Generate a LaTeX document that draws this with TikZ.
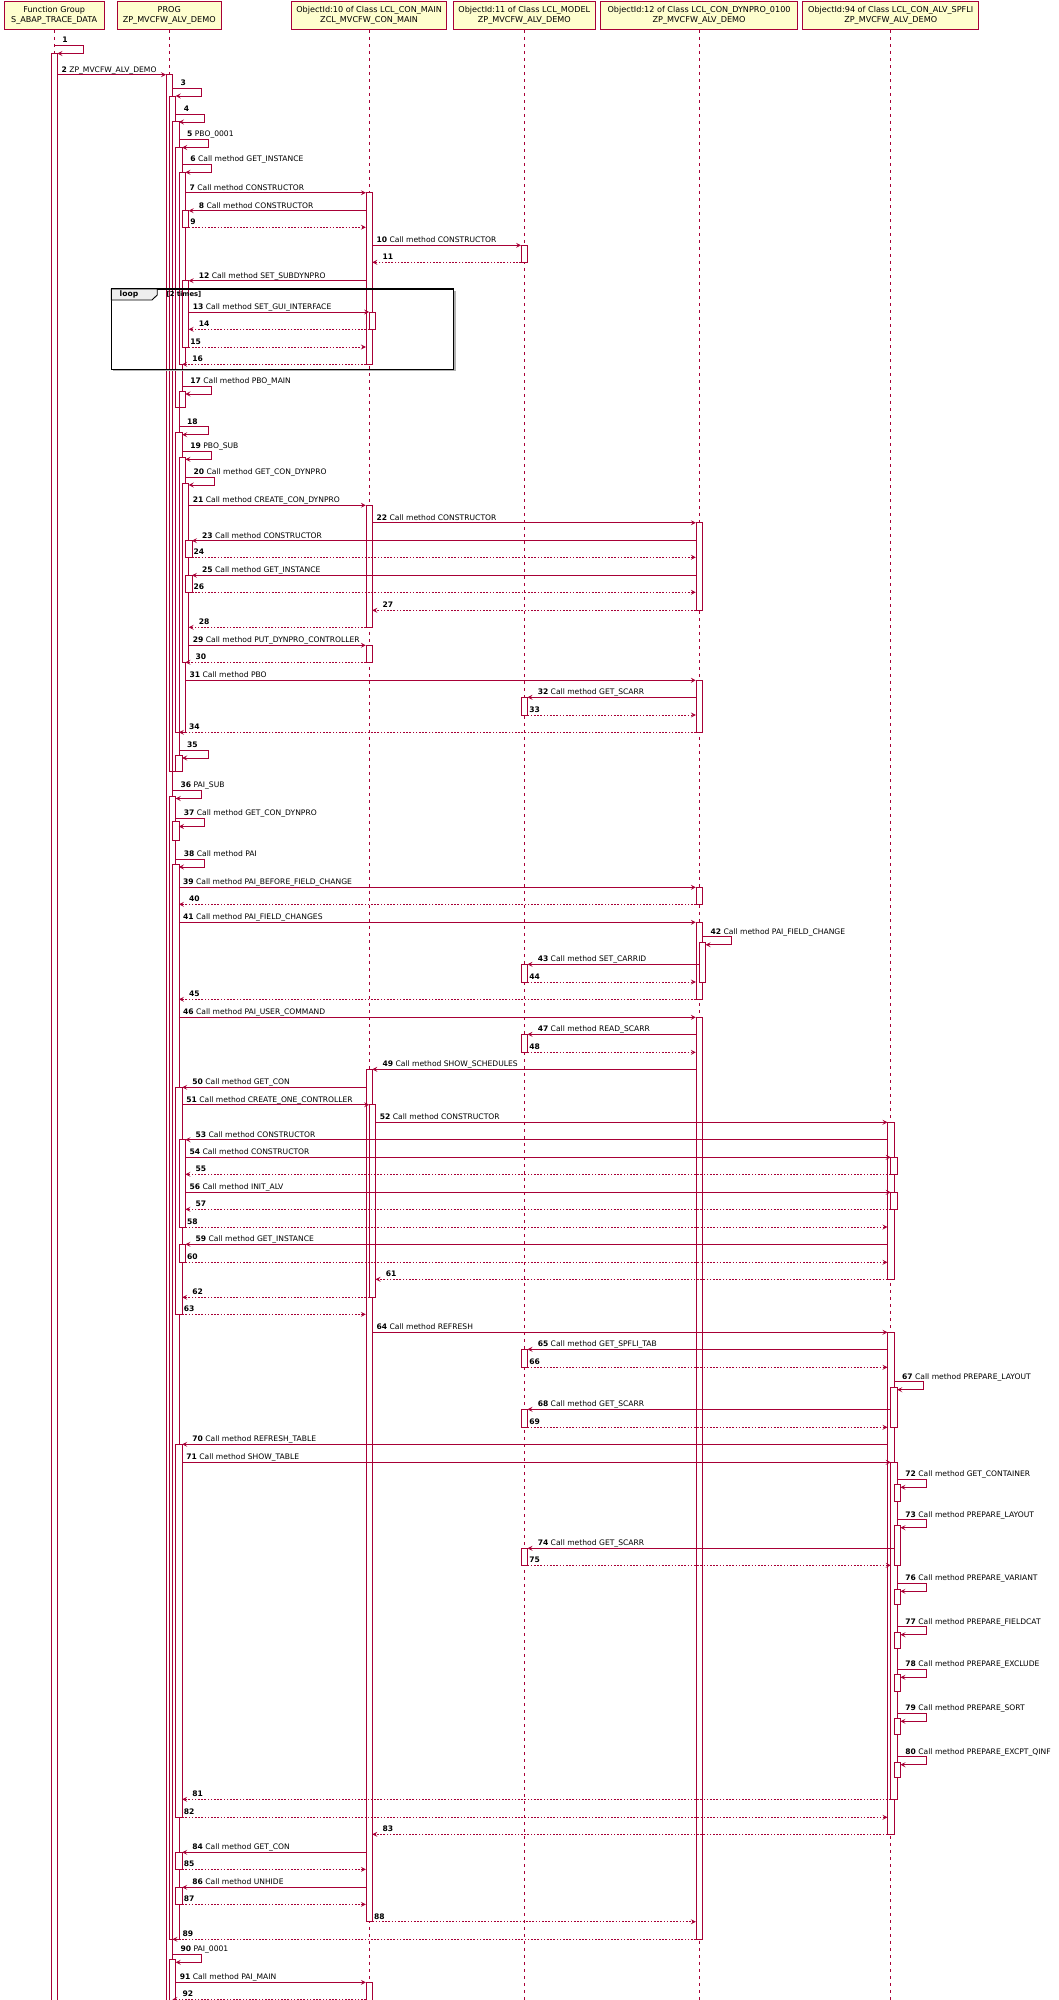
\documentclass[tikz,border=0pt]{standalone}
\usepackage{fontspec}
\setmainfont{DejaVu Sans}
\usetikzlibrary{arrows.meta}
\definecolor{seqline}{HTML}{A80036}
\definecolor{headfill}{HTML}{FEFECE}
\definecolor{tabfill}{HTML}{EEEEEE}

% lifeline centres
\newcommand\lxA{54.2}
\newcommand\lxB{169.2}
\newcommand\lxC{369.1}
\newcommand\lxD{524.3}
\newcommand\lxE{699.1}
\newcommand\lxF{890.7}
% right / left edge of the activation bar of nesting level k
\newcommand\redge[2]{(\csname lx#1\endcsname+3.25*(#2))}
\newcommand\ledge[2]{(\csname lx#1\endcsname+3.25*((#2)-2))}

\tikzset{
  life/.style={seqline, line width=0.6pt, dash pattern=on 3.5pt off 3.5pt},
  actbox/.style={draw=seqline, fill=white, line width=0.7pt},
  call/.style={seqline, line width=0.75pt, -{Stealth[length=5pt,width=5pt,inset=2pt]}},
  ret/.style={call, dash pattern=on 1.6pt off 1.6pt},
  lbl/.style={anchor=base west, inner sep=0pt, font=\fontsize{7.6}{9}\selectfont},
  head/.style={draw=seqline, fill=headfill, line width=0.8pt, minimum height=28.3pt,
    align=center, inner sep=2pt, font=\fontsize{8.1}{9.7}\selectfont},
}

% synchronous call to the right / left
\newcommand\callR[5]{%
  \coordinate (m#1s) at ({#2},#4);
  \coordinate (m#1e) at ({#3},#4);
  \draw[call] (m#1s) -- (m#1e);
  \node[lbl] (t#1) at ({#2+4},{#4-2.6}) {\textbf{#1} #5};}
\newcommand\callL[5]{%
  \coordinate (m#1s) at ({#2},#4);
  \coordinate (m#1e) at ({#3},#4);
  \draw[call] (m#1s) -- (m#1e);
  \node[lbl] (t#1) at ({#3+10},{#4-2.6}) {\textbf{#1} #5};}
% returns
\newcommand\retR[4]{%
  \coordinate (m#1s) at ({#2},#4);
  \coordinate (m#1e) at ({#3},#4);
  \draw[ret] (m#1s) -- (m#1e);
  \node[lbl] (t#1) at ({#2+1.5},{#4-2.6}) {\textbf{#1}};}
\newcommand\retL[4]{%
  \coordinate (m#1s) at ({#2},#4);
  \coordinate (m#1e) at ({#3},#4);
  \draw[ret] (m#1s) -- (m#1e);
  \node[lbl] (t#1) at ({#3+10},{#4-2.6}) {\textbf{#1}};}
% self call from level k to level k+1
\newcommand\selfcall[5]{%
  \coordinate (m#1s) at ({\redge{#2}{#3}},#4);
  \coordinate (m#1a) at ({\redge{#2}{#3}+29},#4);
  \coordinate (m#1b) at ({\redge{#2}{#3}+29},{#4+8});
  \coordinate (m#1e) at ({\redge{#2}{(#3)+1}},{#4+8});
  \draw[call] (m#1s) -- (m#1a) -- (m#1b) -- (m#1e);
  \node[lbl] (t#1) at ({\redge{#2}{#3}+8},{#4-2.6}) {\textbf{#1} #5};}
% activation bar
\newcommand\actbar[4]{%
  \draw[actbox] ({\ledge{#1}{#2}},#3) rectangle ({\redge{#1}{#2}},#4);}

\begin{document}
\begin{tikzpicture}[x=1pt,y=-1pt]
\useasboundingbox (0,0) rectangle (1058,2000);
\fill[white] (0,0) rectangle (1058,2000);

% participants
\node[head, minimum width=99.9pt]  (hA) at (\lxA,15.2) {Function Group\\S\_ABAP\_TRACE\_DATA};
\node[head, minimum width=103.9pt] (hB) at (\lxB,15.2) {PROG\\ZP\_MVCFW\_ALV\_DEMO};
\node[head, minimum width=155.2pt] (hC) at (\lxC,15.2) {ObjectId:10 of Class LCL\_CON\_MAIN\\ZCL\_MVCFW\_CON\_MAIN};
\node[head, minimum width=142.3pt] (hD) at (\lxD,15.2) {ObjectId:11 of Class LCL\_MODEL\\ZP\_MVCFW\_ALV\_DEMO};
\node[head, minimum width=197pt]   (hE) at (\lxE,15.2) {ObjectId:12 of Class LCL\_CON\_DYNPRO\_0100\\ZP\_MVCFW\_ALV\_DEMO};
\node[head, minimum width=176.2pt] (hF) at (\lxF,15.2) {ObjectId:94 of Class LCL\_CON\_ALV\_SPFLI\\ZP\_MVCFW\_ALV\_DEMO};

% lifelines
\draw[life] (hA.south) -- (\lxA,2000);
\draw[life] (hB.south) -- (\lxB,2000);
\draw[life] (hC.south) -- (\lxC,2000);
\draw[life] (hD.south) -- (\lxD,2000);
\draw[life] (hE.south) -- (\lxE,2000);
\draw[life] (hF.south) -- (\lxF,2000);

% activation bars
\actbar{A}{1}{53.3}{2005}

\actbar{B}{1}{74.7}{2005}
\actbar{B}{2}{96.7}{771}
\actbar{B}{2}{796}{1939.3}
\actbar{B}{2}{1959.5}{2005}
\actbar{B}{3}{121.3}{771}
\actbar{B}{3}{821}{840}
\actbar{B}{3}{864}{1939.3}
\actbar{B}{4}{147.3}{407.3}
\actbar{B}{4}{432}{732.3}
\actbar{B}{4}{755.5}{771}
\actbar{B}{4}{1087.3}{1314.3}
\actbar{B}{4}{1444.3}{1817.3}
\actbar{B}{4}{1852.3}{1869.3}
\actbar{B}{4}{1887.3}{1904.3}
\actbar{B}{5}{172.3}{364.3}
\actbar{B}{5}{391.3}{407.3}
\actbar{B}{5}{457}{732.3}
\actbar{B}{5}{1139.7}{1227}
\actbar{B}{5}{1244.3}{1262.3}
\actbar{B}{6}{210.7}{227.3}
\actbar{B}{6}{280.7}{347}
\actbar{B}{6}{483}{662.3}
\actbar{B}{7}{540.7}{557.3}
\actbar{B}{7}{575.3}{592.3}

\actbar{C}{1}{192.7}{364.3}
\actbar{C}{1}{505.3}{627.3}
\actbar{C}{1}{645.3}{662.3}
\actbar{C}{1}{1069.3}{1921.7}
\actbar{C}{1}{1982.3}{2005}
\actbar{C}{2}{312}{329.3}
\actbar{C}{2}{1104.7}{1297.3}

\actbar{D}{1}{245.3}{262.3}
\actbar{D}{1}{697.3}{715}
\actbar{D}{1}{964.3}{982}
\actbar{D}{1}{1034.3}{1052.3}
\actbar{D}{1}{1349.3}{1367.3}
\actbar{D}{1}{1409.3}{1427.3}
\actbar{D}{1}{1548.3}{1565.3}

\actbar{E}{1}{522.7}{610.3}
\actbar{E}{1}{680.3}{732.3}
\actbar{E}{1}{887.3}{904.3}
\actbar{E}{1}{922.3}{999.3}
\actbar{E}{1}{1017.3}{1939.3}
\actbar{E}{2}{942}{982}

\actbar{F}{1}{1122.3}{1279.3}
\actbar{F}{1}{1332.3}{1834.3}
\actbar{F}{2}{1157.3}{1174.3}
\actbar{F}{2}{1192.3}{1209.3}
\actbar{F}{2}{1387}{1427.3}
\actbar{F}{2}{1462.3}{1799.3}
\actbar{F}{3}{1484.5}{1501}
\actbar{F}{3}{1525}{1565.3}
\actbar{F}{3}{1589}{1604}
\actbar{F}{3}{1632}{1648.3}
\actbar{F}{3}{1674.3}{1691.3}
\actbar{F}{3}{1718.3}{1734.3}
\actbar{F}{3}{1762}{1777.3}

% loop fragment
\draw[black!30, line width=1.2pt] (454.9,291) -- (454.9,370.8) -- (113,370.8);
\draw[black, line width=1.1pt] (111.3,289) rectangle (453.4,369.3);
\filldraw[fill=tabfill, draw=black, line width=0.9pt]
  (111.3,289) -- (157.2,289) -- (157.2,295) -- (152,300) -- (111.3,300) -- cycle;
\node[lbl, anchor=west, font=\fontsize{7.6}{9}\selectfont\bfseries] (looptag) at (119.5,294.4) {loop};
\node[lbl, anchor=west, font=\fontsize{6.8}{8}\selectfont\bfseries] (loopcond) at (166.5,294.4) {[2 times]};

% messages
\selfcall{1}{A}{0}{45.5}{}
\callR{2}{\redge{A}{1}}{\ledge{B}{1}}{74.7}{ZP\_MVCFW\_ALV\_DEMO}
\selfcall{3}{B}{1}{88}{}
\selfcall{4}{B}{2}{114}{}
\selfcall{5}{B}{3}{139.5}{PBO\_0001}
\selfcall{6}{B}{4}{164.3}{Call method GET\_INSTANCE}
\callR{7}{\redge{B}{5}}{\ledge{C}{1}}{192.7}{Call method CONSTRUCTOR}
\callL{8}{\ledge{C}{1}}{\redge{B}{6}}{210.7}{Call method CONSTRUCTOR}
\retR{9}{\redge{B}{6}}{\ledge{C}{1}}{227.3}
\callR{10}{\redge{C}{1}}{\ledge{D}{1}}{245.3}{Call method CONSTRUCTOR}
\retL{11}{\ledge{D}{1}}{\redge{C}{1}}{262.3}
\callL{12}{\ledge{C}{1}}{\redge{B}{6}}{280.7}{Call method SET\_SUBDYNPRO}
\callR{13}{\redge{B}{6}}{\ledge{C}{2}}{312}{Call method SET\_GUI\_INTERFACE}
\retL{14}{\ledge{C}{2}}{\redge{B}{6}}{329.3}
\retR{15}{\redge{B}{6}}{\ledge{C}{1}}{347}
\retL{16}{\ledge{C}{1}}{\redge{B}{4}}{364.3}
\selfcall{17}{B}{4}{386}{Call method PBO\_MAIN}
\selfcall{18}{B}{3}{426.7}{}
\selfcall{19}{B}{4}{451.3}{PBO\_SUB}
\selfcall{20}{B}{5}{477}{Call method GET\_CON\_DYNPRO}
\callR{21}{\redge{B}{6}}{\ledge{C}{1}}{505.3}{Call method CREATE\_CON\_DYNPRO}
\callR{22}{\redge{C}{1}}{\ledge{E}{1}}{522.7}{Call method CONSTRUCTOR}
\callL{23}{\ledge{E}{1}}{\redge{B}{7}}{540.7}{Call method CONSTRUCTOR}
\retR{24}{\redge{B}{7}}{\ledge{E}{1}}{557.3}
\callL{25}{\ledge{E}{1}}{\redge{B}{7}}{575.3}{Call method GET\_INSTANCE}
\retR{26}{\redge{B}{7}}{\ledge{E}{1}}{592.3}
\retL{27}{\ledge{E}{1}}{\redge{C}{1}}{610.3}
\retL{28}{\ledge{C}{1}}{\redge{B}{6}}{627.3}
\callR{29}{\redge{B}{6}}{\ledge{C}{1}}{645.3}{Call method PUT\_DYNPRO\_CONTROLLER}
\retL{30}{\ledge{C}{1}}{\redge{B}{5}}{662.3}
\callR{31}{\redge{B}{5}}{\ledge{E}{1}}{680.3}{Call method PBO}
\callL{32}{\ledge{E}{1}}{\redge{D}{1}}{697.3}{Call method GET\_SCARR}
\retR{33}{\redge{D}{1}}{\ledge{E}{1}}{715}
\retL{34}{\ledge{E}{1}}{\redge{B}{3}}{732.3}
\selfcall{35}{B}{3}{750}{}
\selfcall{36}{B}{1}{790.5}{PAI\_SUB}
\selfcall{37}{B}{2}{818.5}{Call method GET\_CON\_DYNPRO}
\selfcall{38}{B}{2}{859}{Call method PAI}
\callR{39}{\redge{B}{3}}{\ledge{E}{1}}{887.3}{Call method PAI\_BEFORE\_FIELD\_CHANGE}
\retL{40}{\ledge{E}{1}}{\redge{B}{3}}{904.3}
\callR{41}{\redge{B}{3}}{\ledge{E}{1}}{922.3}{Call method PAI\_FIELD\_CHANGES}
\selfcall{42}{E}{1}{936.7}{Call method PAI\_FIELD\_CHANGE}
\callL{43}{\ledge{E}{2}}{\redge{D}{1}}{964.3}{Call method SET\_CARRID}
\retR{44}{\redge{D}{1}}{\ledge{E}{1}}{982}
\retL{45}{\ledge{E}{1}}{\redge{B}{3}}{999.3}
\callR{46}{\redge{B}{3}}{\ledge{E}{1}}{1017.3}{Call method PAI\_USER\_COMMAND}
\callL{47}{\ledge{E}{1}}{\redge{D}{1}}{1034.3}{Call method READ\_SCARR}
\retR{48}{\redge{D}{1}}{\ledge{E}{1}}{1052.3}
\callL{49}{\ledge{E}{1}}{\redge{C}{1}}{1069.3}{Call method SHOW\_SCHEDULES}
\callL{50}{\ledge{C}{1}}{\redge{B}{4}}{1087.3}{Call method GET\_CON}
\callR{51}{\redge{B}{4}}{\ledge{C}{2}}{1104.7}{Call method CREATE\_ONE\_CONTROLLER}
\callR{52}{\redge{C}{2}}{\ledge{F}{1}}{1122.3}{Call method CONSTRUCTOR}
\callL{53}{\ledge{F}{1}}{\redge{B}{5}}{1139.7}{Call method CONSTRUCTOR}
\callR{54}{\redge{B}{5}}{\ledge{F}{2}}{1157.3}{Call method CONSTRUCTOR}
\retL{55}{\ledge{F}{2}}{\redge{B}{5}}{1174.3}
\callR{56}{\redge{B}{5}}{\ledge{F}{2}}{1192.3}{Call method INIT\_ALV}
\retL{57}{\ledge{F}{2}}{\redge{B}{5}}{1209.3}
\retR{58}{\redge{B}{5}}{\ledge{F}{1}}{1227}
\callL{59}{\ledge{F}{1}}{\redge{B}{5}}{1244.3}{Call method GET\_INSTANCE}
\retR{60}{\redge{B}{5}}{\ledge{F}{1}}{1262.3}
\retL{61}{\ledge{F}{1}}{\redge{C}{2}}{1279.3}
\retL{62}{\ledge{C}{2}}{\redge{B}{4}}{1297.3}
\retR{63}{\redge{B}{4}}{\ledge{C}{1}}{1314.3}
\callR{64}{\redge{C}{1}}{\ledge{F}{1}}{1332.3}{Call method REFRESH}
\callL{65}{\ledge{F}{1}}{\redge{D}{1}}{1349.3}{Call method GET\_SPFLI\_TAB}
\retR{66}{\redge{D}{1}}{\ledge{F}{1}}{1367.3}
\selfcall{67}{F}{1}{1381.7}{Call method PREPARE\_LAYOUT}
\callL{68}{\ledge{F}{2}}{\redge{D}{1}}{1409.3}{Call method GET\_SCARR}
\retR{69}{\redge{D}{1}}{\ledge{F}{1}}{1427.3}
\callL{70}{\ledge{F}{1}}{\redge{B}{4}}{1444.3}{Call method REFRESH\_TABLE}
\callR{71}{\redge{B}{4}}{\ledge{F}{2}}{1462.3}{Call method SHOW\_TABLE}
\selfcall{72}{F}{2}{1479.3}{Call method GET\_CONTAINER}
\selfcall{73}{F}{2}{1519.7}{Call method PREPARE\_LAYOUT}
\callL{74}{\ledge{F}{3}}{\redge{D}{1}}{1548.3}{Call method GET\_SCARR}
\retR{75}{\redge{D}{1}}{\ledge{F}{2}}{1565.3}
\selfcall{76}{F}{2}{1583.3}{Call method PREPARE\_VARIANT}
\selfcall{77}{F}{2}{1626.7}{Call method PREPARE\_FIELDCAT}
\selfcall{78}{F}{2}{1669.3}{Call method PREPARE\_EXCLUDE}
\selfcall{79}{F}{2}{1713.3}{Call method PREPARE\_SORT}
\selfcall{80}{F}{2}{1756.7}{Call method PREPARE\_EXCPT\_QINF}
\retL{81}{\ledge{F}{2}}{\redge{B}{4}}{1799.3}
\retR{82}{\redge{B}{4}}{\ledge{F}{1}}{1817.3}
\retL{83}{\ledge{F}{1}}{\redge{C}{1}}{1834.3}
\callL{84}{\ledge{C}{1}}{\redge{B}{4}}{1852.3}{Call method GET\_CON}
\retR{85}{\redge{B}{4}}{\ledge{C}{1}}{1869.3}
\callL{86}{\ledge{C}{1}}{\redge{B}{4}}{1887.3}{Call method UNHIDE}
\retR{87}{\redge{B}{4}}{\ledge{C}{1}}{1904.3}
\retR{88}{\redge{C}{1}}{\ledge{E}{1}}{1921.7}
\retL{89}{\ledge{E}{1}}{\redge{B}{1}}{1939.3}
\selfcall{90}{B}{1}{1954.3}{PAI\_0001}
\callR{91}{\redge{B}{2}}{\ledge{C}{1}}{1982.3}{Call method PAI\_MAIN}
\retL{92}{\ledge{C}{1}}{\redge{B}{1}}{1999.4}
\end{tikzpicture}
\end{document}
